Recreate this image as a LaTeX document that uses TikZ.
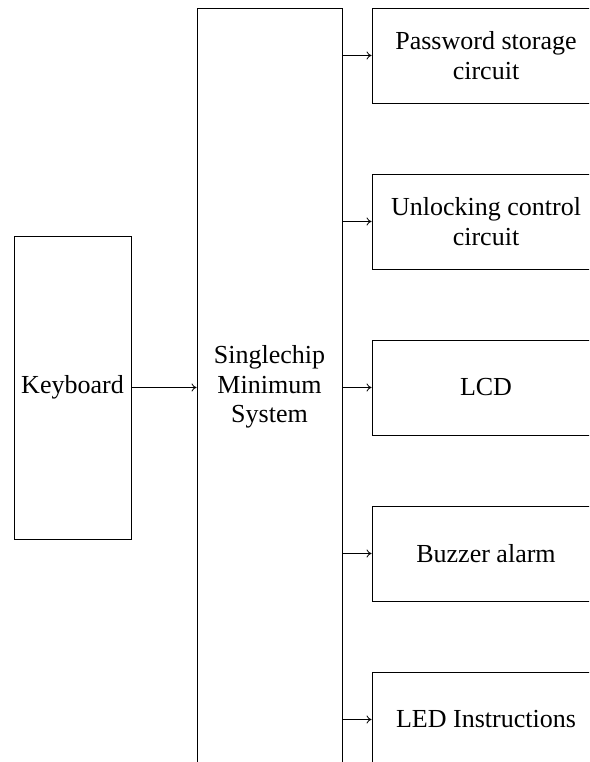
\documentclass[tikz,border=0pt]{standalone}
\usepackage{fontspec}
\setmainfont{Liberation Serif}
\usetikzlibrary{arrows.meta,positioning}

\begin{document}
\begin{tikzpicture}[
  x=1pt,y=1pt,
  font=\fontsize{26}{29.5}\selectfont,
  node distance=70.1pt,
  box/.style={draw,line width=0.9pt,minimum width=228pt,minimum height=95pt,align=center,inner sep=0pt},
  flow/.style={-{To[length=5pt,width=8pt]},line width=0.8pt}
]
\useasboundingbox (0,0) rectangle (589,762);
\clip (0,0) rectangle (589,762);
\node[box,minimum width=117pt,minimum height=303pt] (kbd) at (72.5,374.5) {Keyboard};
\node[box,minimum width=145pt,minimum height=758pt] (mcu) at (269.5,375) {Singlechip\\Minimum\\System};
\node[box] (pwd) at (486,706.5) {Password storage\\circuit};
\node[box,below=of pwd] (unlock) {Unlocking control\\circuit};
\node[box,below=of unlock] (lcd) {LCD};
\node[box,below=of lcd] (buzz) {Buzzer alarm};
\node[box,below=of buzz] (led) {LED Instructions};
\draw[flow] (kbd.east) -- (kbd.east -| mcu.west);
\foreach \n in {pwd,unlock,lcd,buzz,led}
  \draw[flow] (mcu.east |- \n.west) -- (\n.west);
\end{tikzpicture}
\end{document}
